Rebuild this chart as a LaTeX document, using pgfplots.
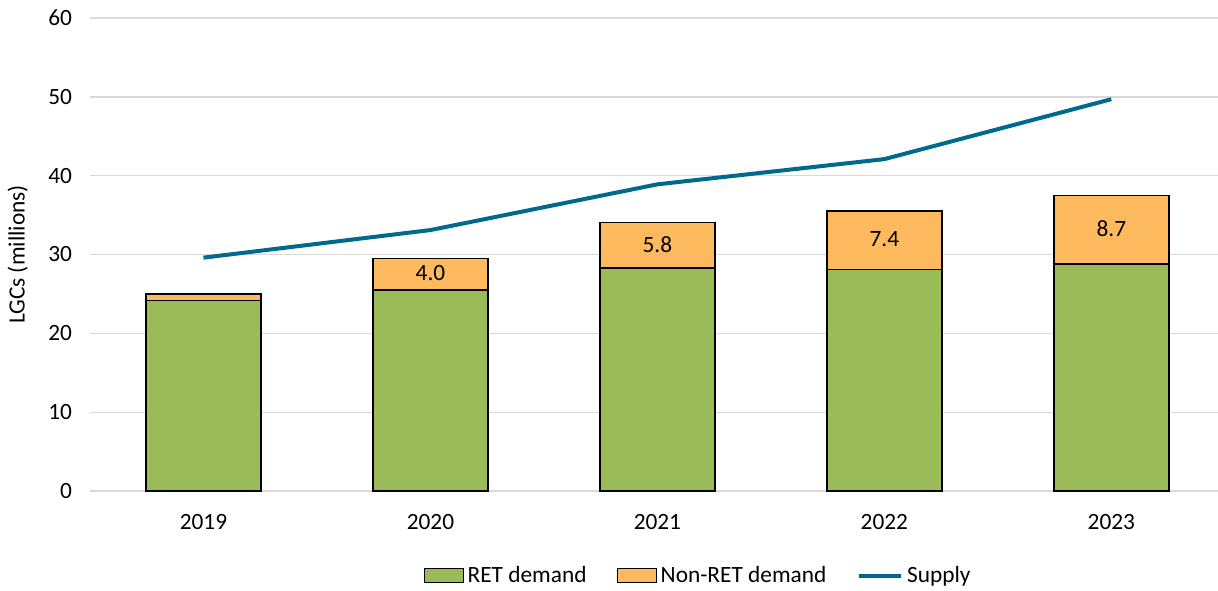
\documentclass[border=0pt]{standalone}
\usepackage{pgfplots}
\pgfplotsset{compat=1.18}
\usepackage{fontspec}
\setmainfont{Carlito}

\definecolor{retgreen}{HTML}{9BBB59}
\definecolor{nonret}{HTML}{FDB95E}
\definecolor{supply}{HTML}{006A8E}
\definecolor{gridgray}{HTML}{D9D9D9}

\pgfplotsset{
  boxlegend/.style={legend image code/.code={\draw[##1] (0pt,-5.3pt) rectangle (29pt,5.3pt);}},
  linelegend/.style={legend image code/.code={\draw[##1] (0pt,0pt) -- (32pt,0pt);}},
}

\begin{document}
\begin{tikzpicture}
\path[use as bounding box] (-67.5pt,-74.25pt) rectangle (846pt,368.25pt);
\begin{axis}[
  at={(0,0)}, anchor=south west,
  scale only axis, width=846pt, height=354.75pt,
  font=\fontsize{17.5}{20}\selectfont,
  /pgf/number format/assume math mode=true,
  xmin=-0.5, xmax=4.47, ymin=0, ymax=60,
  xtick={0,1,2,3,4}, xticklabels={2019,2020,2021,2022,2023},
  ytick={0,10,...,60},
  axis x line*=bottom, axis y line*=left,
  x axis line style={draw=gridgray, line width=1pt, -},
  y axis line style={draw=none},
  ymajorgrids, grid style={draw=gridgray, line width=1pt},
  major tick length=0pt,
  yticklabel style={xshift=-10pt},
  xticklabel style={yshift=-14pt},
  ylabel={LGCs (millions)},
  ylabel style={at={(axis description cs:-0.064,0.5)}, anchor=center},
  clip=false,
  legend columns=3,
  legend style={at={(0.540,-0.179)}, anchor=center, draw=none, fill=none,
    /tikz/every even column/.append style={column sep=20pt},
    nodes={inner sep=2.8pt}},
  every axis legend/.append style={font=\fontsize{17.5}{20}\selectfont},
]
\addlegendimage{boxlegend, fill=retgreen, draw=black, line width=1pt}
\addlegendentry{RET demand}
\addlegendimage{boxlegend, fill=nonret, draw=black, line width=1pt}
\addlegendentry{Non-RET demand}
\addlegendimage{linelegend, draw=supply, line width=3pt}
\addlegendentry{Supply}

% total demand (RET + non-RET)
\addplot[ybar, bar width=86.25pt, bar shift=0pt, fill=nonret, draw=black, line width=1pt, forget plot]
  coordinates {(0,25.0) (1,29.5) (2,34.1) (3,35.5) (4,37.5)};
% RET demand
\addplot[ybar, bar width=86.25pt, bar shift=0pt, fill=retgreen, draw=black, line width=1pt, forget plot]
  coordinates {(0,24.2) (1,25.5) (2,28.3) (3,28.1) (4,28.8)};
% non-RET labels, at the middle of each orange segment
\addplot[only marks, mark=none, forget plot,
  point meta=explicit symbolic, nodes near coords,
  every node near coord/.append style={anchor=center, font=\fontsize{17.5}{20}\selectfont}]
  coordinates {(1,27.6)[4.0] (2,31.3)[5.8] (3,31.9)[7.4] (4,33.3)[8.7]};
% supply
\addplot[draw=supply, line width=3pt, mark=none, forget plot]
  coordinates {(0,29.6) (1,33.1) (2,38.9) (3,42.1) (4,49.7)};
\end{axis}
\end{tikzpicture}
\end{document}
